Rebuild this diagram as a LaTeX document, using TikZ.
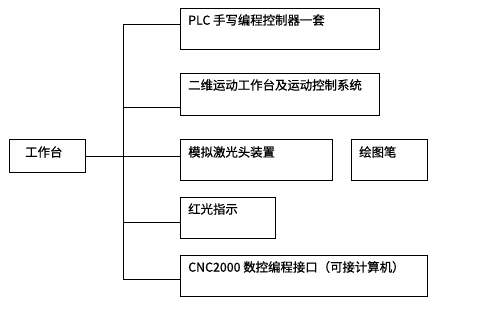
\documentclass[tikz,border=0pt]{standalone}
\usepackage{fontspec}
\setmainfont{Noto Sans CJK SC}[FakeBold=0.6]
\begin{document}
\begin{tikzpicture}[x=1pt,y=-1pt,
  box/.style={draw, line width=0.8pt, inner sep=0pt, anchor=north west},
  lbl/.style={anchor=west, inner sep=0pt, font=\fontsize{12.4}{14}\selectfont},
  conn/.style={draw, line width=0.8pt}]
\useasboundingbox (0,0) rectangle (486,312);
\node[box, minimum width=199pt, minimum height=41pt] (b1) at (180,8) {};
\node[box, minimum width=199pt, minimum height=42pt] (b2) at (180,73) {};
\node[box, minimum width=152pt, minimum height=41pt] (b3) at (180,139) {};
\node[box, minimum width=76pt, minimum height=41pt] (b4) at (351,139) {};
\node[box, minimum width=95pt, minimum height=41pt] (b5) at (180,197) {};
\node[box, minimum width=247pt, minimum height=41pt] (b6) at (180,255) {};
\node[box, minimum width=76pt, minimum height=33pt] (g) at (9,139) {};
\node[lbl] at ([xshift=8pt,yshift=-12pt]b1.north west) {PLC 手写编程控制器一套};
\node[lbl] at ([xshift=8pt,yshift=-12pt]b2.north west) {二维运动工作台及运动控制系统};
\node[lbl] at ([xshift=8pt,yshift=-13pt]b3.north west) {模拟激光头装置};
\node[lbl] at ([xshift=8pt,yshift=-13pt]b4.north west) {绘图笔};
\node[lbl] at ([xshift=8pt,yshift=-12pt]b5.north west) {红光指示};
\node[lbl] at ([xshift=8pt,yshift=-12pt]b6.north west) {CNC2000 数控编程接口（可接计算机）};
\node[lbl] at ([xshift=16pt,yshift=-13pt]g.north west) {工作台};
\coordinate (t1) at (123,24);
\coordinate (t2) at (123,107);
\coordinate (t5) at (123,222);
\coordinate (t6) at (123,279);
\coordinate (gE) at (85,156);
\draw[conn] (t1) -- (t6);
\draw[conn] (t1) -- (t1 -| b1.west);
\draw[conn] (t2) -- (t2 -| b2.west);
\draw[conn] (gE) -- (gE -| b3.west);
\draw[conn] (t5) -- (t5 -| b5.west);
\draw[conn] (t6) -- (t6 -| b6.west);
\end{tikzpicture}
\end{document}
